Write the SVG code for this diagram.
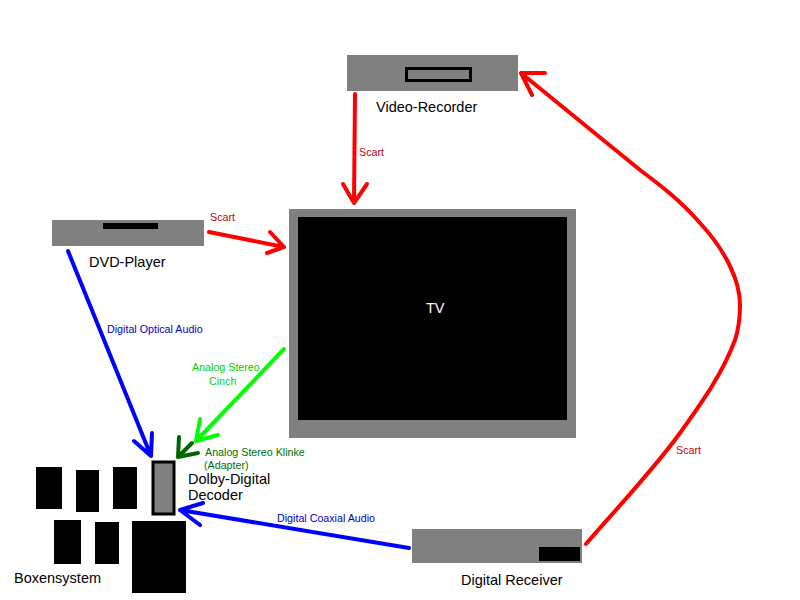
<svg xmlns="http://www.w3.org/2000/svg" width="800" height="600" viewBox="0 0 800 600">
<style>
text{font-family:"Liberation Sans",Arial,sans-serif}
.l{font-size:14.500px;fill:#000}
.s{font-size:10.700px}
.g{fill:#808080}
.k{fill:#000}
.c{fill:none;stroke-width:4;stroke-linecap:round;stroke-linejoin:round}
.r{stroke:#f00}.b{stroke:#00f}.lg{stroke:#0f0}.dg{stroke:#060}
</style>
<rect width="800" height="600" fill="#fff"/>
<g id="tv"><rect class="g" x="289" y="209" width="287" height="229"/><rect class="k" x="298" y="217" width="269" height="203"/><text x="426" y="313" class="l" style="fill:#fff">TV</text></g>
<g id="video-recorder"><rect class="g" x="347" y="55" width="171" height="36"/><rect x="406.500" y="68.500" width="64" height="12" fill="none" stroke="#000" stroke-width="3"/><text x="376" y="112" class="l">Video-Recorder</text></g>
<g id="dvd-player"><rect class="g" x="52" y="220" width="152" height="26"/><rect class="k" x="103" y="223" width="55" height="6"/><text x="89" y="267" class="l">DVD-Player</text></g>
<g id="digital-receiver"><rect class="g" x="412" y="529" width="170" height="34"/><rect class="k" x="539" y="547" width="41" height="14"/><text x="461" y="585" class="l">Digital Receiver</text></g>
<g id="decoder"><rect x="153" y="462" width="21" height="52" fill="#808080" stroke="#000" stroke-width="3"/><text x="188" y="484" class="l">Dolby-Digital</text><text x="188" y="500" class="l">Decoder</text></g>
<g id="boxensystem"><rect class="k" x="36" y="467" width="26" height="42"/><rect class="k" x="76" y="470" width="23" height="42"/><rect class="k" x="113" y="467" width="24" height="42"/><rect class="k" x="54" y="520" width="27" height="44"/><rect class="k" x="95" y="522" width="24" height="42"/><rect class="k" x="132" y="521" width="54" height="72"/><text x="14" y="583" class="l">Boxensystem</text></g>
<g id="connectors">
<path class="c r" d="M355 94 L354 203 M343 184 L354 203 L367 184"/>
<path class="c r" d="M209 232 L284 247 M270 232 L284 247 L267 253"/>
<path class="c r" d="M586 544 C610 516 655 468 680 433 C700 405 722 375 735 340 C739 328 740 318 740 305 C740 280 725 250 700 223 C680 200 660 185 640 170 L521 73 M521 73 L545 73 M521 73 L532 95"/>
<path class="c b" d="M68 251 L151 456 M134 441 L151 456 L152 433"/>
<path class="c b" d="M409 548 L180 510 M203 503 L180 510 L200 525"/>
<path class="c lg" d="M284 349 L196 441 M218 435 L196 441 L200 419"/>
<path class="c dg" d="M192 443 L178 457 M198 453 L178 457 L179 437"/>
</g>
<g id="labels">
<text x="359" y="156" class="s" fill="#c00010">Scart</text>
<text x="210" y="221" class="s" fill="#c00010">Scart</text>
<text x="676" y="454" class="s" fill="#c00010">Scart</text>
<text x="107" y="333" class="s" fill="#0000c0">Digital Optical Audio</text>
<text x="277" y="522" class="s" fill="#0000c0">Digital Coaxial Audio</text>
<text x="192" y="371" class="s" fill="#00d000">Analog Stereo</text>
<text x="209" y="385" class="s" fill="#00d000">Cinch</text>
<text x="205" y="456" class="s" fill="#007000">Analog Stereo Klinke</text>
<text x="204" y="469" class="s" fill="#007000">(Adapter)</text>
</g>
</svg>
